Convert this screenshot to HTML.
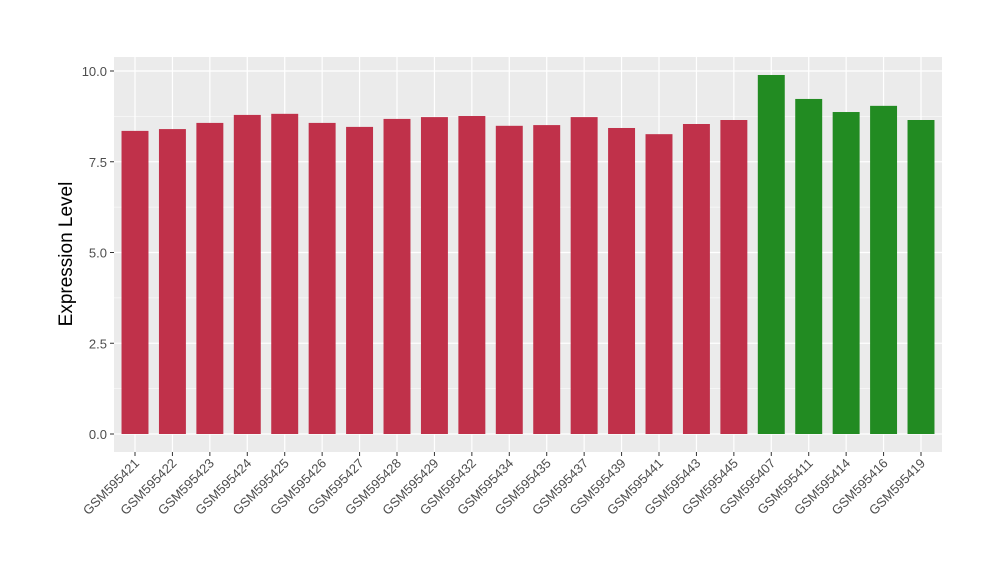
<!DOCTYPE html>
<html><head><meta charset="utf-8"><style>body{margin:0;background:#fff}svg{display:block;font-family:"Liberation Sans",sans-serif}</style></head>
<body>
<svg id="chart" width="1000" height="580">
<rect x="114" y="57" width="828" height="395" fill="#ebebeb"/>
<g id="grid"></g><g id="bars"></g><g id="axes"></g>
<text x="72" y="254" font-size="19" text-anchor="middle" transform="rotate(-90 72 254)">Expression Level</text>
</svg>
<script>
const categories=["GSM595421","GSM595422","GSM595423","GSM595424","GSM595425","GSM595426","GSM595427","GSM595428","GSM595429","GSM595432","GSM595434","GSM595435","GSM595437","GSM595439","GSM595441","GSM595443","GSM595445","GSM595407","GSM595411","GSM595414","GSM595416","GSM595419"];
const values=[8.35,8.40,8.57,8.79,8.82,8.57,8.46,8.68,8.73,8.76,8.49,8.51,8.73,8.43,8.26,8.54,8.65,9.89,9.23,8.87,9.04,8.65];
const groups=["a","a","a","a","a","a","a","a","a","a","a","a","a","a","a","a","a","b","b","b","b","b"];
const yTicks=[0,2.5,5,7.5,10];
const yTickLabels=["0.0","2.5","5.0","7.5","10.0"];
const NS="http://www.w3.org/2000/svg";
const y=v=>434-v*36.3;
const step=(921-135)/21;
const x=i=>135+i*step;
const bw=step*0.72;
const grid=document.getElementById('grid'),bars=document.getElementById('bars'),axes=document.getElementById('axes');
function mk(tag,at,parent){const e=document.createElementNS(NS,tag);for(const k in at)e.setAttribute(k,at[k]);parent.appendChild(e);return e;}
for(let i=0;i<yTicks.length-1;i++){const m=(yTicks[i]+yTicks[i+1])/2;const l=mk('line',{x1:114,x2:942,y1:y(m),y2:y(m),stroke:'#fff','stroke-width':0.6},grid);

}
yTicks.forEach((t,i)=>{const l=mk('line',{x1:114,x2:942,y1:y(t),y2:y(t),stroke:'#fff','stroke-width':1.2},grid);


const tk=mk('line',{x1:110,x2:114,y1:y(t),y2:y(t),stroke:'#333'},axes);


const tx=mk('text',{x:107,y:y(t)+5,'font-size':13,'text-anchor':'end',fill:'#4d4d4d'},axes);tx.textContent=yTickLabels[i];

});
categories.forEach((c,i)=>{const l=mk('line',{x1:x(i),x2:x(i),y1:57,y2:452,stroke:'#fff','stroke-width':1.2},grid);


const r=mk('rect',{x:x(i)-bw/2,y:y(values[i]),width:bw,height:y(0)-y(values[i]),fill:groups[i]==='a'?'#c0314a':'#228b22'},bars);


const tk=mk('line',{x1:x(i),x2:x(i),y1:452,y2:456,stroke:'#333'},axes);


const tx=mk('text',{x:x(i)+5,y:464,'font-size':13,'text-anchor':'end',fill:'#4d4d4d',transform:`rotate(-45 ${x(i)+5} 464)`},axes);tx.textContent=c;

});
</script>
</body></html>
